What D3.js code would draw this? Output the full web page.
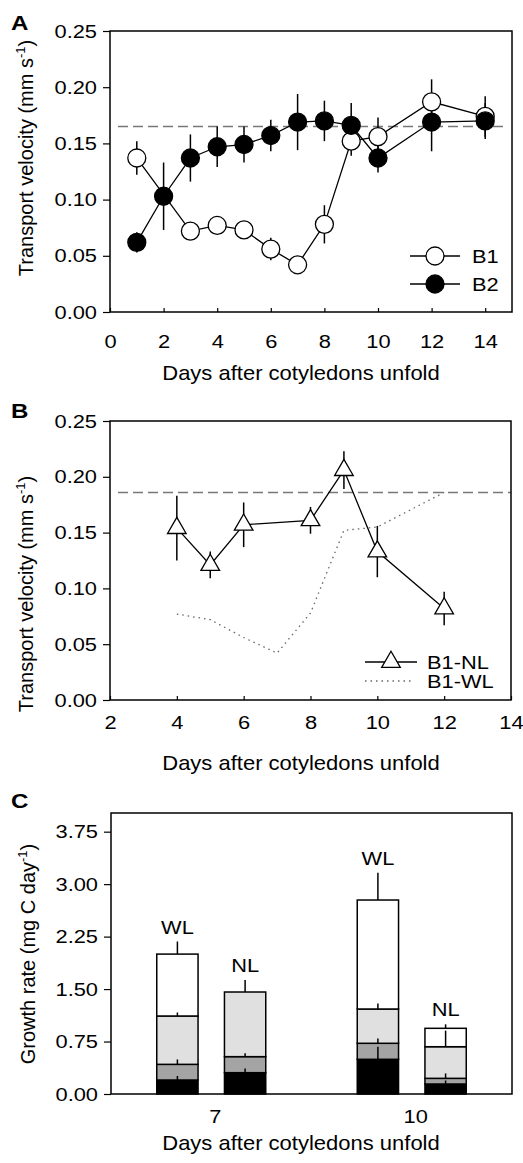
<!DOCTYPE html>
<html>
<head>
<meta charset="utf-8">
<script src="https://cdn.jsdelivr.net/npm/d3@7"></script>
<style>
body { margin: 0; background: #fff; }
svg { display: block; font-family: "Liberation Sans", Arial, sans-serif; }
</style>
</head>
<body>
<svg id="chart" width="523" height="1163"></svg>
<script>
// ---- panel A: transport velocity, B1 and B2 ----
var b1Days = [1, 3, 4, 5, 6, 7, 8, 9, 10, 12, 14];
var b1Vel  = [0.137, 0.072, 0.077, 0.073, 0.056, 0.042, 0.078, 0.152, 0.156, 0.187, 0.174];
var b1Err  = [0.015, 0.004, 0.004, 0.004, 0.010, 0.006, 0.017, 0.013, 0.017, 0.020, 0.018];
var b2Days = [1, 2, 3, 4, 5, 6, 7, 8, 9, 10, 12, 14];
var b2Vel  = [0.062, 0.103, 0.137, 0.147, 0.149, 0.157, 0.169, 0.170, 0.166, 0.137, 0.169, 0.170];
var b2Err  = [0.009, 0.030, 0.021, 0.018, 0.016, 0.014, 0.025, 0.018, 0.020, 0.013, 0.026, 0.016];
var refA = 0.165;
var ticksA = [0, 2, 4, 6, 8, 10, 12, 14];

// ---- panel B: B1 with (WL) and without (NL) leaf ----
var nlDays = [4, 5, 6, 8, 9, 10, 12];
var nlVel  = [0.154, 0.121, 0.157, 0.161, 0.206, 0.133, 0.082];
var nlErr  = [0.029, 0.012, 0.020, 0.012, 0.017, 0.023, 0.015];
var wlDays = [4, 5, 6, 7, 8, 9, 10, 12];
var wlVel  = [0.077, 0.072, 0.056, 0.042, 0.078, 0.152, 0.155, 0.186];
var refB = 0.186;
var ticksB = [2, 4, 6, 8, 10, 12, 14];
var velTicks = [0, 0.05, 0.10, 0.15, 0.20, 0.25];

// ---- panel C: growth rate, stacked parts ----
var barDay   = ['7', '7', '10', '10'];
var barLight = ['WL', 'NL', 'WL', 'NL'];
var blackVal = [0.200, 0.305, 0.496, 0.143];
var darkVal  = [0.224, 0.229, 0.229, 0.081];
var lightVal = [0.691, 0.924, 0.490, 0.452];
var whiteVal = [0.885, 0.000, 1.558, 0.263];
var blackErr = [0.057, 0.060, 0.180, 0.050];
var darkErr  = [0.070, 0.050, 0.070, 0.070];
var lightErr = [0.050, 0.170, 0.080, 0.230];
var whiteErr = [0.180, 0.000, 0.390, 0.057];
var growthDays = ['7', '10'];
var growthTicks = [0, 0.75, 1.50, 2.25, 3.00, 3.75];

var svg = d3.select('#chart');
var tickFont = 19, titleFont = 20, sx = 1.15;

function frame(x0, y0, x1, y1) {
	svg.append('rect')
		.attr('x', x0).attr('y', y0)
		.attr('width', x1 - x0).attr('height', y1 - y0)
		.attr('fill', 'none').attr('stroke', '#000').attr('stroke-width', 1.5);
}

// horizontal text, slightly widened like the reference lettering
function label(x, y, s, size, anchor, stretch) {
	return svg.append('text')
		.attr('transform', 'translate(' + x + ',' + y + ') scale(' + (stretch || sx) + ',1)')
		.attr('text-anchor', anchor || 'start')
		.attr('font-size', size).text(s);
}

function yAxis(scale, tickVals, left) {
	var g = svg.append('g')
		.attr('transform', 'translate(' + left + ',0)')
		.call(d3.axisLeft(scale).tickValues(tickVals).tickFormat(d3.format('.2f')).tickSize(7));
	g.select('.domain').remove();
	g.selectAll('text').attr('font-size', tickFont).attr('font-family', null).attr('fill', '#000')
		.attr('x', -13 / sx).attr('transform', 'scale(' + sx + ',1)');
	g.selectAll('line').attr('stroke-width', 1.2);
}

function xAxis(scale, tickVals, bottom, labelY, tickLen, shift) {
	var ax = d3.axisBottom(scale).tickSize(-tickLen);
	if (tickVals) ax.tickValues(tickVals);
	var g = svg.append('g')
		.attr('transform', 'translate(0,' + bottom + ')')
		.call(ax);
	g.select('.domain').remove();
	g.selectAll('text').attr('font-size', tickFont).attr('font-family', null).attr('fill', '#000')
		.attr('x', (shift || 0) / sx)
		.attr('y', labelY).attr('dy', null).attr('transform', 'scale(' + sx + ',1)');
	g.selectAll('line').attr('stroke-width', 1.2);
}

function yTitle(x, y, main, sup, close) {
	var t = svg.append('text')
		.attr('transform', 'translate(' + x + ',' + y + ') rotate(-90)')
		.attr('text-anchor', 'middle')
		.attr('font-size', titleFont);
	t.append('tspan').text(main);
	t.append('tspan').attr('font-size', 13).attr('dy', -8).text(sup);
	t.append('tspan').attr('dy', 8).text(close);
}

/****************************
 * Panel A
 ****************************/
var xA = d3.scaleLinear().domain([0, 15]).range([110, 512]);
var yA = d3.scaleLinear().domain([0, 0.25]).range([312, 31]);

svg.append('line')
	.attr('x1', 118).attr('x2', 508)
	.attr('y1', yA(refA)).attr('y2', yA(refA))
	.attr('stroke', '#777').attr('stroke-width', 1.5).attr('stroke-dasharray', '10,5');

var lineA = d3.line().x(function(d) { return xA(d[0]); }).y(function(d) { return yA(d[1]); });
var b1 = b1Days.map(function(d, i) { return [d, b1Vel[i], b1Err[i]]; });
var b2 = b2Days.map(function(d, i) { return [d, b2Vel[i], b2Err[i]]; });

[b1, b2].forEach(function(series) {
	svg.append('g').selectAll('line')
		.data(series).enter().append('line')
		.attr('x1', function(d) { return xA(d[0]); })
		.attr('x2', function(d) { return xA(d[0]); })
		.attr('y1', function(d) { return yA(d[1] - d[2]); })
		.attr('y2', function(d) { return yA(d[1] + d[2]); })
		.attr('stroke', '#000').attr('stroke-width', 1.5);
	svg.append('path').datum(series)
		.attr('d', lineA).attr('fill', 'none').attr('stroke', '#000').attr('stroke-width', 1.3);
});
[b1, b2].forEach(function(series, k) {
	svg.append('g').selectAll('circle')
		.data(series).enter().append('circle')
		.attr('cx', function(d) { return xA(d[0]); })
		.attr('cy', function(d) { return yA(d[1]); })
		.attr('r', 9)
		.attr('fill', k === 0 ? '#fff' : '#000')
		.attr('stroke', '#000').attr('stroke-width', 1.3);
});

frame(110, 31, 512, 312);
yAxis(yA, velTicks, 110);
xAxis(xA, ticksA, 312, 36, 4);
yTitle(33, 158, 'Transport velocity (mm s', '-1', ')');
label(301, 380, 'Days after cotyledons unfold', titleFont, 'middle', 1.1);
label(11, 30, 'A', 21).attr('font-weight', 'bold');

// legend A
var legA = [['B1', '#fff', 256], ['B2', '#000', 284]];
legA.forEach(function(l) {
	svg.append('line').attr('x1', 410).attr('x2', 460).attr('y1', l[2]).attr('y2', l[2])
		.attr('stroke', '#000').attr('stroke-width', 1.3);
	svg.append('circle').attr('cx', 435).attr('cy', l[2]).attr('r', 9)
		.attr('fill', l[1]).attr('stroke', '#000').attr('stroke-width', 1.3);
	label(472, l[2] + 7, l[0], tickFont);
});

/****************************
 * Panel B
 ****************************/
var xB = d3.scaleLinear().domain([2, 14]).range([110, 511]);
var yB = d3.scaleLinear().domain([0, 0.25]).range([700, 421]);

svg.append('line')
	.attr('x1', 118).attr('x2', 511)
	.attr('y1', yB(refB)).attr('y2', yB(refB))
	.attr('stroke', '#777').attr('stroke-width', 1.5).attr('stroke-dasharray', '10,5');

var lineB = d3.line().x(function(d) { return xB(d[0]); }).y(function(d) { return yB(d[1]); });
var wl = wlDays.map(function(d, i) { return [d, wlVel[i]]; });
var nl = nlDays.map(function(d, i) { return [d, nlVel[i], nlErr[i]]; });

svg.append('path').datum(wl)
	.attr('d', lineB).attr('fill', 'none').attr('stroke', '#666')
	.attr('stroke-width', 1.3).attr('stroke-dasharray', '1.5,4');

svg.append('g').selectAll('line')
	.data(nl).enter().append('line')
	.attr('x1', function(d) { return xB(d[0]); })
	.attr('x2', function(d) { return xB(d[0]); })
	.attr('y1', function(d) { return yB(d[1] - d[2]); })
	.attr('y2', function(d) { return yB(d[1] + d[2]); })
	.attr('stroke', '#000').attr('stroke-width', 1.5);
svg.append('path').datum(nl)
	.attr('d', lineB).attr('fill', 'none').attr('stroke', '#000').attr('stroke-width', 1.3);

var tri = d3.symbol().type(d3.symbolTriangle).size(150);
svg.append('g').selectAll('path')
	.data(nl).enter().append('path')
	.attr('d', tri)
	.attr('transform', function(d) { return 'translate(' + xB(d[0]) + ',' + yB(d[1]) + ')'; })
	.attr('fill', '#fff').attr('stroke', '#000').attr('stroke-width', 1.3);

frame(110, 421, 511, 700);
yAxis(yB, velTicks, 110);
xAxis(xB, ticksB, 700, 29, 4);
yTitle(33, 594, 'Transport velocity (mm s', '-1', ')');
label(301, 770, 'Days after cotyledons unfold', titleFont, 'middle', 1.1);
label(11, 418, 'B', 21).attr('font-weight', 'bold');

// legend B
svg.append('line').attr('x1', 365).attr('x2', 417).attr('y1', 662).attr('y2', 662)
	.attr('stroke', '#000').attr('stroke-width', 1.3);
svg.append('path').attr('d', tri).attr('transform', 'translate(391,662)')
	.attr('fill', '#fff').attr('stroke', '#000').attr('stroke-width', 1.3);
label(427, 669, 'B1-NL', tickFont);
svg.append('line').attr('x1', 365).attr('x2', 413).attr('y1', 681).attr('y2', 681)
	.attr('stroke', '#666').attr('stroke-width', 1.3).attr('stroke-dasharray', '1.5,4');
label(427, 688, 'B1-WL', tickFont);

/****************************
 * Panel C
 ****************************/
var xC = d3.scaleBand().domain(growthDays).range([111, 512]);
var xCin = d3.scaleBand().domain(['WL', 'NL'])
	.range([xC.bandwidth() / 2 - 54.5, xC.bandwidth() / 2 + 54.5])
	.paddingInner(0.39).paddingOuter(0);
var yC = d3.scaleLinear().domain([0, 4.017]).range([1094, 813]);

var keys = ['black', 'dark', 'light', 'white'];
var colors = {black: '#000', dark: '#a4a4a4', light: '#e0e0e0', white: '#fff'};
var errs = barDay.map(function(d, i) { return [blackErr[i], darkErr[i], lightErr[i], whiteErr[i]]; });
var table = barDay.map(function(d, i) {
	return {day: d, lt: barLight[i], black: blackVal[i], dark: darkVal[i], light: lightVal[i], white: whiteVal[i]};
});
var stacked = d3.stack().keys(keys)(table);
function barX(d) { return xC(d.data.day) + xCin(d.data.lt); }
var half = xCin.bandwidth() / 2;

stacked.forEach(function(layer) {
	svg.append('g').selectAll('rect')
		.data(layer.filter(function(d) { return d[1] - d[0] > 0; }))
		.enter().append('rect')
		.attr('x', barX)
		.attr('y', function(d) { return yC(d[1]); })
		.attr('width', xCin.bandwidth())
		.attr('height', function(d) { return yC(d[0]) - yC(d[1]); })
		.attr('fill', colors[layer.key])
		.attr('stroke', '#000').attr('stroke-width', 1.5);
});
stacked.forEach(function(layer, j) {
	svg.append('g').selectAll('line')
		.data(layer.map(function(d, i) { return [d, errs[i][j]]; })
			.filter(function(e) { return e[1] > 0; }))
		.enter().append('line')
		.attr('x1', function(e) { return barX(e[0]) + half; })
		.attr('x2', function(e) { return barX(e[0]) + half; })
		.attr('y1', function(e) { return yC(e[0][1]); })
		.attr('y2', function(e) { return yC(e[0][1] + e[1]); })
		.attr('stroke', '#000').attr('stroke-width', 1.5);
});
// WL / NL labels above the highest error bar of each column
var topLayer = stacked[stacked.length - 1];
topLayer.forEach(function(d, i) {
	var errTop = 0;
	stacked.forEach(function(layer, j) { errTop = Math.max(errTop, layer[i][1] + errs[i][j]); });
	label(barX(d) + half, yC(errTop) - 8, d.data.lt, tickFont, 'middle');
});

frame(111, 813, 512, 1094);
yAxis(yC, growthTicks, 111);
xAxis(xC, null, 1094, 29, 0, 4);
yTitle(35, 954, 'Growth rate (mg C day', '-1', ')');
label(301, 1150, 'Days after cotyledons unfold', titleFont, 'middle', 1.1);
label(11, 808, 'C', 21).attr('font-weight', 'bold');
</script>
</body>
</html>
